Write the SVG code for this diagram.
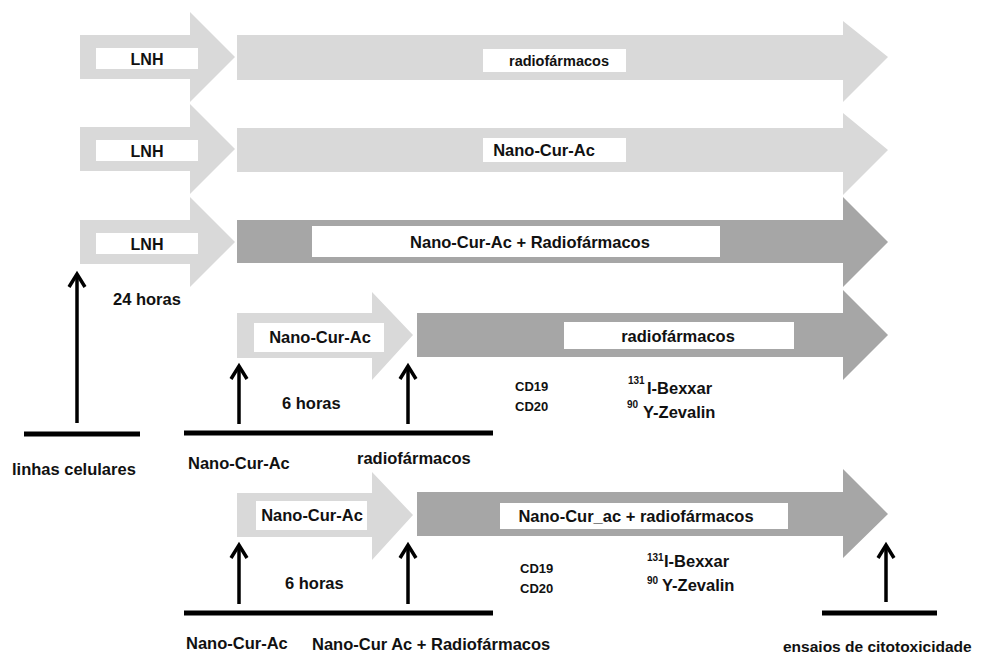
<svg xmlns="http://www.w3.org/2000/svg" width="991" height="656" viewBox="0 0 991 656">
<defs>
<style>
.lt{fill:#d9d9d9}
.dk{fill:#a6a6a6}
.box{fill:#fff}
text{font-family:"Liberation Sans","Open Sans",Arial,sans-serif;font-weight:bold;fill:#111;font-size:16.5px}
.c{text-anchor:middle}
.s{font-size:13px}
.sup{font-size:10px}
.ln{stroke:#000;stroke-width:5;fill:none}
.up{stroke:#000;stroke-width:3.5;fill:none}
</style>
</defs>
<rect width="991" height="656" fill="#fff"/>

<g id="row1">
<g id="lnh1"><polygon class="lt" points="80,35 190,35 190,12 235,57 190,102 190,79 80,79"/><rect class="box" x="96" y="48" width="102" height="21"/><text class="c" x="147" y="65" style="font-size:16px">LNH</text></g>
<g id="radio1"><polygon class="lt" points="237,35 843,35 843,21 888,57 843,102 843,80 237,80"/><rect class="box" x="483" y="49" width="143" height="23"/><text class="c" x="559" y="66" style="font-size:14.5px">radiofármacos</text></g>
</g>

<g id="row2">
<g id="lnh2"><polygon class="lt" points="80,127 190,127 190,104 235,149 190,194 190,171 80,171"/><rect class="box" x="96" y="140" width="102" height="21"/><text class="c" x="147" y="157" style="font-size:16px">LNH</text></g>
<g id="nano2"><polygon class="lt" points="237,128 843,128 843,113 888,150 843,195 843,172 237,172"/><rect class="box" x="483" y="138" width="143" height="24"/><text class="c" x="544" y="156">Nano-Cur-Ac</text></g>
</g>

<g id="row3">
<g id="lnh3"><polygon class="lt" points="80,220 190,220 190,197 235,242 190,287 190,264 80,264"/><rect class="box" x="96" y="233" width="102" height="21"/><text class="c" x="147" y="250" style="font-size:16px">LNH</text></g>
<g id="combo3"><polygon class="dk" points="237,220 843,220 843,197 888,242 843,287 843,263 237,263"/><rect class="box" x="312" y="226" width="408" height="31"/><text class="c" x="530" y="248">Nano-Cur-Ac + Radiofármacos</text></g>
</g>

<g id="row4">
<g id="nano4"><polygon class="lt" points="237,313 372,313 372,292 413,335 372,380 372,358 237,358"/><rect class="box" x="254" y="323" width="130" height="29"/><text class="c" x="320" y="343">Nano-Cur-Ac</text></g>
<g id="radio4"><polygon class="dk" points="417,313 843,313 843,290 888,335 843,380 843,357 417,357"/><rect class="box" x="564" y="322" width="230" height="27"/><text class="c" x="678" y="342">radiofármacos</text></g>
</g>

<g id="row5">
<g id="nano5"><polygon class="lt" points="237,493 372,493 372,472 413,515 372,560 372,537 237,537"/><rect class="box" x="256" y="501" width="111" height="29"/><text class="c" x="312" y="521">Nano-Cur-Ac</text></g>
<g id="combo5"><polygon class="dk" points="417,492 843,492 843,469 888,514 843,558 843,536 417,536"/><rect class="box" x="500" y="503" width="288" height="26"/><text class="c" x="636" y="522">Nano-Cur_ac + radiofármacos</text></g>
</g>

<g id="connectors">
<line class="ln" x1="24" y1="434" x2="140" y2="434"/>
<line class="up" x1="77" y1="423" x2="77" y2="275"/><polyline class="up" points="69,287 77,274 85,287"/>
<line class="ln" x1="184" y1="433" x2="493" y2="433"/>
<line class="up" x1="239" y1="424" x2="239" y2="367"/><polyline class="up" points="231,379 239,366 247,379"/>
<line class="up" x1="408" y1="424" x2="408" y2="367"/><polyline class="up" points="400,379 408,366 416,379"/>
<line class="ln" x1="184" y1="613" x2="493" y2="613"/>
<line class="up" x1="239" y1="604" x2="239" y2="546"/><polyline class="up" points="231,558 239,545 247,558"/>
<line class="up" x1="408" y1="604" x2="408" y2="546"/><polyline class="up" points="400,558 408,545 416,558"/>
<line class="ln" x1="822" y1="613" x2="937" y2="613"/>
<line class="up" x1="886" y1="602" x2="886" y2="546"/><polyline class="up" points="878,558 886,545 894,558"/>
</g>

<g id="labels">
<text x="113" y="305">24 horas</text>
<text x="12" y="475">linhas celulares</text>
<text x="282" y="409">6 horas</text>
<text x="188" y="469">Nano-Cur-Ac</text>
<text x="357" y="464">radiofármacos</text>
<text class="s" x="515" y="391">CD19</text>
<text class="s" x="515" y="411">CD20</text>
<text class="sup" x="628" y="384">131</text>
<text x="647" y="394">I-Bexxar</text>
<text class="sup" x="627" y="408">90</text>
<text x="643" y="418">Y-Zevalin</text>
<text x="285" y="589">6 horas</text>
<text class="s" x="520" y="573">CD19</text>
<text class="s" x="520" y="593">CD20</text>
<text class="sup" x="647" y="561">131</text>
<text x="664" y="567">I-Bexxar</text>
<text class="sup" x="647" y="584">90</text>
<text x="662" y="591">Y-Zevalin</text>
<text x="186" y="649">Nano-Cur-Ac</text>
<text x="312" y="650">Nano-Cur Ac + Radiofármacos</text>
<text x="783" y="652" style="font-size:15.5px">ensaios de citotoxicidade</text>
</g>
</svg>
